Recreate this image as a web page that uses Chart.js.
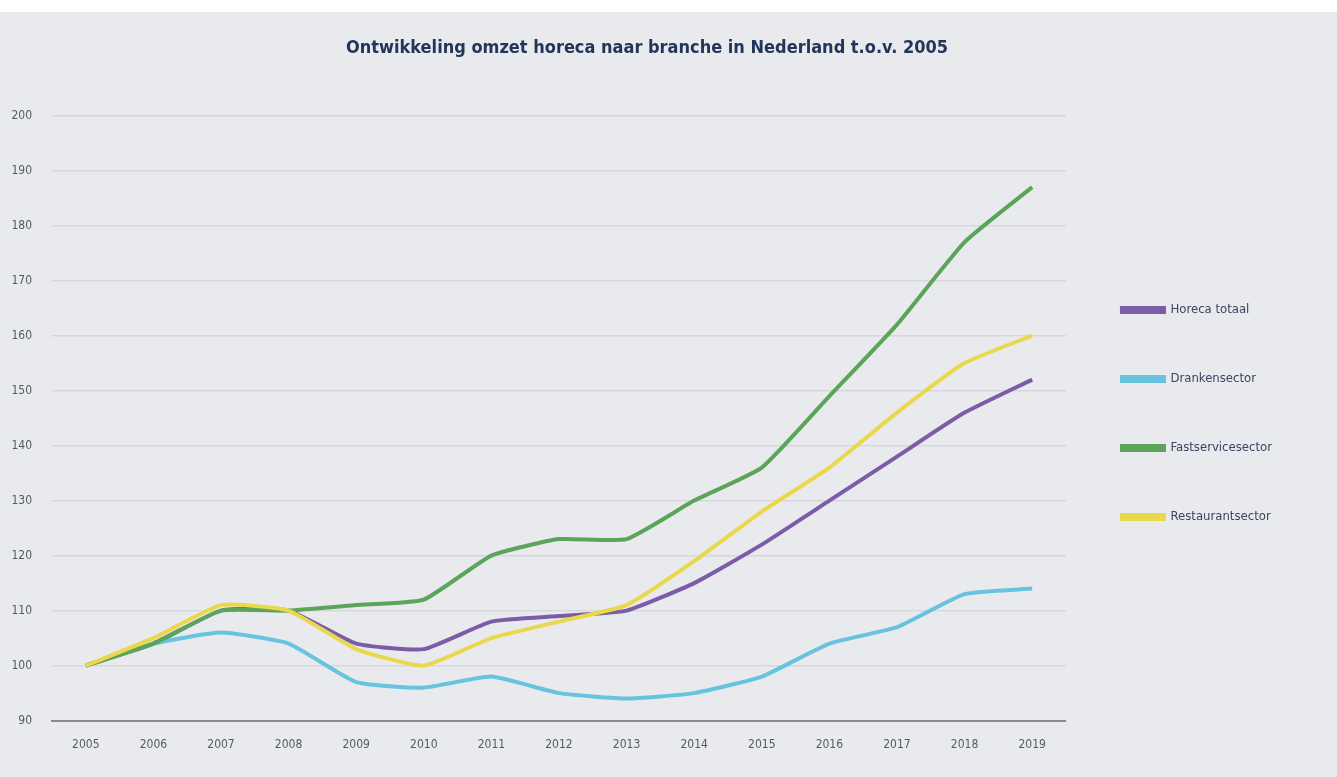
<!DOCTYPE html>
<html>
<head>
<meta charset="utf-8">
<script src="https://cdn.jsdelivr.net/npm/chart.js@4/dist/chart.umd.min.js"></script>
<style>
  html, body { margin: 0; padding: 0; background: #ffffff; }
  #wrap { position: absolute; left: 0; top: 12px; width: 1337px; height: 765px; background: #e9eaee; }
</style>
</head>
<body>
<div id="wrap"><canvas id="chart"></canvas></div>
<script>
// jaren en indexcijfers (2005 = 100)
const years = ["2005", "2006", "2007", "2008", "2009", "2010", "2011", "2012", "2013", "2014", "2015", "2016", "2017", "2018", "2019"]
const horecaTotaal = [100, 104, 110, 110, 104, 103, 108, 109, 110, 115, 122, 130, 138, 146, 152]
const drankensector = [100, 104, 106, 104, 97, 96, 98, 95, 94, 95, 98, 104, 107, 113, 114]
const fastservicesector = [100, 104, 110, 110, 111, 112, 120, 123, 123, 130, 136, 149, 162, 177, 187]
const restaurantsector = [100, 105, 111, 110, 103, 100, 105, 108, 111, 119, 128, 136, 146, 155, 160]
const seriesNames = ["Horeca totaal", "Drankensector", "Fastservicesector", "Restaurantsector"]
const seriesColors = ["#7b5ca7", "#68c3df", "#5ca45a", "#ead84c"]

const narrow = "'Liberation Sans Narrow', 'DejaVu Sans Condensed', sans-serif"

function line(i, data) {
    return {
        label: seriesNames[i],
        data: data,
        borderColor: seriesColors[i],
        backgroundColor: seriesColors[i],
        borderWidth: 4,
        pointRadius: 0,
        tension: 0.15,
        // later series on top, like the original
        order: 3 - i
    }
}

new Chart(document.getElementById("chart"), {
    type: 'line',
    data: {
        labels: years,
        datasets: [
            line(0, horecaTotaal),
            line(1, drankensector),
            line(2, fastservicesector),
            line(3, restaurantsector)
        ]
    },
    options: {
        responsive: true,
        maintainAspectRatio: false,
        animation: false,
        layout: {
            padding: { left: 12, right: 55, top: 0, bottom: 8 }
        },
        scales: {
            x: {
                offset: true,
                grid: { display: false, drawTicks: false },
                border: { color: "#8b8b8f", width: 2 },
                ticks: { color: "#555a66", padding: 17, font: { family: narrow, size: 12 } }
            },
            y: {
                min: 90,
                max: 200,
                afterFit: (scale) => { scale.width = 40 },
                grid: { color: "#d6d7dc", lineWidth: 1.5, drawTicks: false },
                border: { display: false },
                ticks: { stepSize: 10, color: "#555a66", padding: 20, font: { family: narrow, size: 12 } }
            }
        },
        plugins: {
            title: {
                display: true,
                text: "Ontwikkeling omzet horeca naar branche in Nederland t.o.v. 2005",
                color: "#22365a",
                font: { family: narrow, size: 18, weight: 'bold' },
                padding: { top: 26, bottom: 56 }
            },
            legend: {
                position: 'right',
                reverse: true,
                title: { display: true, text: ' ', font: { size: 10 }, padding: { top: 17, bottom: 17 } },
                labels: {
                    boxWidth: 42,
                    boxHeight: 4,
                    padding: 56,
                    color: "#3b4560",
                    font: { family: narrow, size: 13 }
                }
            },
            tooltip: { enabled: false }
        }
    }
})
</script>
</body>
</html>
